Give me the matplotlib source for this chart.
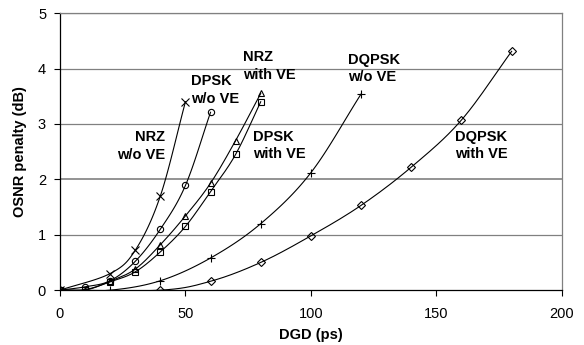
import numpy as np
import matplotlib
matplotlib.use("Agg")
import matplotlib.pyplot as plt

plt.rcParams['font.family'] = ['Liberation Sans', 'DejaVu Sans']

# Data (DGD in ps, OSNR penalty in dB)
nrz_wo_x = [0, 20, 30, 40, 50]
nrz_wo_y = [0, 0.3, 0.72, 1.7, 3.4]
dpsk_wo_x = [0, 10, 20, 30, 40, 50, 60]
dpsk_wo_y = [0, 0.06, 0.17, 0.52, 1.1, 1.89, 3.21]
nrz_ve_x = [0, 10, 20, 30, 40, 50, 60, 70, 80]
nrz_ve_y = [0, 0, 0.16, 0.38, 0.82, 1.34, 1.93, 2.7, 3.55]
dpsk_ve_x = [0, 10, 20, 30, 40, 50, 60, 70, 80]
dpsk_ve_y = [0, 0.01, 0.15, 0.33, 0.69, 1.15, 1.78, 2.45, 3.4]
dqpsk_wo_x = [0, 20, 40, 60, 80, 100, 120]
dqpsk_wo_y = [0, 0, 0.17, 0.58, 1.2, 2.12, 3.54]
dqpsk_ve_x = [0, 40, 60, 80, 100, 120, 140, 160, 180]
dqpsk_ve_y = [0, 0, 0.16, 0.5, 0.98, 1.53, 2.22, 3.07, 4.31]

labels = ["NRZ\nw/o VE", "DPSK\nw/o VE", "NRZ\nwith VE", "DPSK\nwith VE",
          "DQPSK\nw/o VE", "DQPSK\nwith VE"]
label_pos = [(41.8, 2.6, 'right'), (52.2, 3.61, 'left'), (72.9, 4.04, 'left'),
             (76.9, 2.61, 'left'), (114.7, 4.0, 'left'), (157.4, 2.61, 'left')]

x_ticks = [0, 50, 100, 150, 200]
y_ticks = [0, 1, 2, 3, 4, 5]


def smooth(xs, ys, n=20):
    xs = np.asarray(xs, float)
    ys = np.asarray(ys, float)
    P = np.column_stack([xs, ys])
    P = np.vstack([P[0] - (P[1] - P[0]), P, P[-1] + (P[-1] - P[-2])])
    out = []
    t = np.linspace(0, 1, n)[:, None]
    for i in range(1, len(P) - 2):
        p0, p1, p2, p3 = P[i - 1], P[i], P[i + 1], P[i + 2]
        seg = 0.5 * ((2 * p1) + (-p0 + p2) * t + (2 * p0 - 5 * p1 + 4 * p2 - p3) * t ** 2
                     + (-p0 + 3 * p1 - 3 * p2 + p3) * t ** 3)
        out.append(seg if i == 1 else seg[1:])
    out = np.vstack(out)
    return out[:, 0], out[:, 1]


fig = plt.figure(figsize=(5.84, 3.45), dpi=100)
ax = fig.add_axes([0.1027, 0.159, 0.8593, 0.803])

series = [
    (nrz_wo_x, nrz_wo_y, 'x', 5.5),
    (dpsk_wo_x, dpsk_wo_y, 'o', 4.5),
    (nrz_ve_x, nrz_ve_y, '^', 5),
    (dpsk_ve_x, dpsk_ve_y, 's', 4.2),
    (dqpsk_wo_x, dqpsk_wo_y, '+', 6),
    (dqpsk_ve_x, dqpsk_ve_y, 'D', 3.6),
]
for xs, ys, m, ms in series:
    sx, sy = smooth(xs, ys)
    ax.plot(sx, sy, color='black', lw=0.8, zorder=3)
    ax.plot(xs, ys, linestyle='none', marker=m, ms=ms, mfc='none', mec='black',
            mew=0.8, zorder=4)

for txt, (x, y, ha) in zip(labels, label_pos):
    ax.text(x, y, txt, ha=ha, va='center', fontsize=10.5, fontweight='bold',
            linespacing=1.35, zorder=5)

ax.set_xlim(0, 200)
ax.set_ylim(0, 5)
ax.set_xticks(x_ticks)
ax.set_yticks(y_ticks)
ax.tick_params(axis='both', direction='out', length=4, width=0.8, labelsize=10.5,
               colors='black')
ax.tick_params(axis='x', pad=8)
ax.tick_params(axis='y', pad=6)
for y in y_ticks[1:]:
    ax.axhline(y, color='#808080', lw=1.2 if y == 2 else 0.9, zorder=1)
ax.spines['left'].set_color('black')
ax.spines['bottom'].set_color('black')
ax.spines['left'].set_linewidth(0.9)
ax.spines['bottom'].set_linewidth(0.9)
ax.spines['right'].set_color('#808080')
ax.spines['top'].set_color('#808080')
ax.spines['right'].set_linewidth(0.9)
ax.spines['top'].set_linewidth(0.9)

ax.set_xlabel('DGD (ps)', fontsize=10.5, fontweight='bold', labelpad=5)
ax.set_ylabel('OSNR penalty (dB)', fontsize=10.5, fontweight='bold', labelpad=8)

fig.savefig('out.png', dpi=100)
